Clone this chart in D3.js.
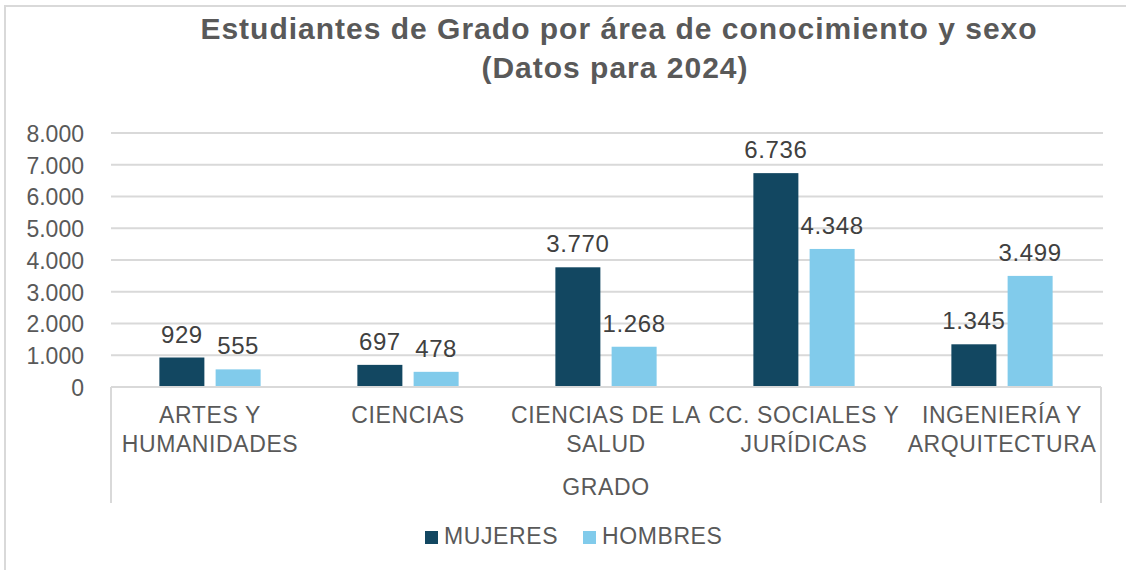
<!DOCTYPE html>
<html>
<head>
<meta charset="utf-8">
<style>
  body { margin: 0; background: #fff; }
  svg { display: block; font-family: "Liberation Sans", Arial, sans-serif; }
</style>
</head>
<body>
<svg width="1126" height="570"></svg>
<script src="https://d3js.org/d3.v7.min.js"></script>
<script>

// data
var categories = [
  ["ARTES Y", "HUMANIDADES"],
  ["CIENCIAS"],
  ["CIENCIAS DE LA", "SALUD"],
  ["CC. SOCIALES Y", "JURÍDICAS"],
  ["INGENIERÍA Y", "ARQUITECTURA"]
];
var series = ["MUJERES", "HOMBRES"];
var mujeres = [929, 697, 3770, 6736, 1345];
var hombres = [555, 478, 1268, 4348, 3499];
var yTicks = [0, 1000, 2000, 3000, 4000, 5000, 6000, 7000, 8000];

var colors = { "MUJERES": "#124761", "HOMBRES": "#81CBEB" };
var fmt = function(v) { return d3.format(",")(v).replace(/,/g, "."); };

var svg = d3.select("svg");

// outer chart border
svg.append("rect").attr("x", 5).attr("y", 6).attr("width", 1130).attr("height", 570)
  .attr("fill", "none").attr("stroke", "#d9d9d9").attr("stroke-width", 2);

var plotLeft = 111, plotRight = 1101, plotTop = 133, plotBottom = 387;

var x0 = d3.scaleBand().domain(d3.range(categories.length)).range([plotLeft, plotRight]);
var x1 = d3.scaleBand().domain(series).range([0, x0.bandwidth()])
  .paddingInner(0.2).paddingOuter(0.86);
var y = d3.scaleLinear().domain([0, 8000]).range([plotBottom, plotTop]);

// title
var title = svg.append("text").attr("text-anchor", "middle")
  .attr("fill", "#595959").style("font-weight", "bold").style("font-size", "30px")
  .style("letter-spacing", "1px");
title.append("tspan").attr("x", 619).attr("y", 39).text("Estudiantes de Grado por área de conocimiento y sexo");
title.append("tspan").attr("x", 615).attr("y", 78).text("(Datos para 2024)");

// gridlines
svg.append("g").selectAll("line").data(yTicks.slice(1)).join("line")
  .attr("x1", plotLeft).attr("x2", plotRight + 2)
  .attr("y1", function(d) { return y(d); }).attr("y2", function(d) { return y(d); })
  .attr("stroke", "#d9d9d9").attr("stroke-width", 2);

// y axis labels
var yAxis = svg.append("g").attr("transform", "translate(" + (plotLeft - 27) + ",0)")
  .call(d3.axisLeft(y).tickValues(yTicks).tickSize(0).tickPadding(0).tickFormat(fmt));
yAxis.select(".domain").remove();
yAxis.selectAll("text").attr("fill", "#595959").style("font-size", "23px")
  .style("font-family", "'Liberation Sans', Arial, sans-serif").attr("dy", "0.36em");

// bars
var rows = categories.map(function(c, i) { return { i: i, MUJERES: mujeres[i], HOMBRES: hombres[i] }; });
var groups = svg.append("g").selectAll("g").data(rows).join("g")
  .attr("transform", function(d) { return "translate(" + x0(d.i) + ",0)"; });

var cells = groups.selectAll("g").data(function(d) {
  return series.map(function(s) { return { key: s, value: d[s] }; });
}).join("g");

cells.append("rect")
  .attr("x", function(d) { return x1(d.key); })
  .attr("width", x1.bandwidth())
  .attr("y", function(d) { return y(d.value); })
  .attr("height", function(d) { return y(0) - y(d.value); })
  .attr("fill", function(d) { return colors[d.key]; });

cells.append("text")
  .attr("x", function(d) { return x1(d.key) + x1.bandwidth() / 2; })
  .attr("y", function(d) { return y(d.value) - 15; })
  .attr("text-anchor", "middle").attr("fill", "#404040").style("font-size", "24px")
  .style("letter-spacing", "0.6px")
  .text(function(d) { return fmt(d.value); });

// category axis box
var axisG = svg.append("g").attr("stroke", "#d9d9d9").attr("stroke-width", 2);
axisG.append("line").attr("x1", plotLeft).attr("x2", plotRight).attr("y1", plotBottom).attr("y2", plotBottom);
axisG.append("line").attr("x1", plotLeft).attr("x2", plotLeft).attr("y1", plotBottom).attr("y2", 503);
axisG.append("line").attr("x1", plotRight).attr("x2", plotRight).attr("y1", plotBottom).attr("y2", 503);

svg.append("g").selectAll("text").data(categories).join("text")
  .attr("text-anchor", "middle").attr("fill", "#595959").style("font-size", "23px")
  .style("letter-spacing", "0.6px")
  .each(function(lines, i) {
    var t = d3.select(this);
    lines.forEach(function(l, k) {
      t.append("tspan").attr("x", x0(i) + x0.bandwidth() / 2).attr("y", 423 + k * 29).text(l);
    });
  });

svg.append("text").attr("x", (plotLeft + plotRight) / 2).attr("y", 495)
  .attr("text-anchor", "middle").attr("fill", "#595959").style("font-size", "23px")
  .style("letter-spacing", "0.6px").text("GRADO");

// legend
var legendX = [425, 583];
var leg = svg.append("g").selectAll("g").data(series).join("g")
  .attr("transform", function(d, i) { return "translate(" + legendX[i] + ",531)"; });
leg.append("rect").attr("width", 13).attr("height", 13).attr("fill", function(d) { return colors[d]; });
leg.append("text").attr("x", 19).attr("y", 12.5).attr("fill", "#595959").style("font-size", "23px")
  .style("letter-spacing", "0.6px").text(function(d) { return d; });

</script>
</body>
</html>
